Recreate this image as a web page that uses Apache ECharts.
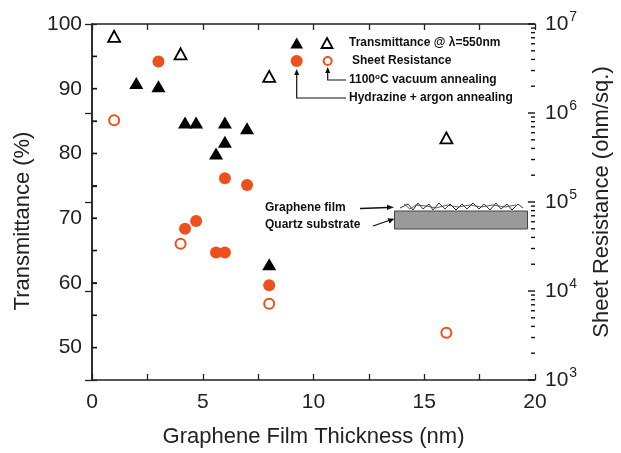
<!DOCTYPE html>
<html><head><meta charset="utf-8">
<script src="https://cdn.jsdelivr.net/npm/echarts@6/dist/echarts.min.js"></script>
<style>html,body{margin:0;padding:0;background:#fff}#c{width:621px;height:453px}</style>
</head><body><div id="c"></div>
<script>
// Transmittance, hydrazine + argon annealing (filled triangles)
const thickTHyd = [2, 3, 4.2, 4.7, 6, 6, 5.6, 7, 8];
const transHyd = [90.9, 90.4, 84.8, 84.8, 84.8, 81.8, 80.0, 83.9, 62.9];
// Transmittance, 1100°C vacuum annealing (open triangles)
const thickTVac = [1, 4, 8, 16];
const transVac = [98.1, 95.4, 91.9, 82.4];
// Sheet resistance, hydrazine + argon annealing (filled circles)
const thickRHyd = [3, 4.2, 4.7, 5.6, 6, 6, 7, 8];
const resHyd = [3.8e6, 5.0e4, 6.1e4, 2.7e4, 2.7e4, 1.85e5, 1.55e5, 1.16e4];
// Sheet resistance, vacuum annealing (open circles)
const thickRVac = [1, 4, 8, 16];
const resVac = [8.3e5, 3.4e4, 7.2e3, 3.4e3];
// tick labels / tick positions
const xTicks = [0, 5, 10, 15, 20];
const tTicks = [50, 60, 70, 80, 90, 100];
const tTickMarks = [50, 55, 60, 65, 70, 75, 80, 85, 90, 95];
const rDecades = [3, 4, 5, 6, 7];
const rMinorMult = [2, 3, 4, 5, 6, 7, 8, 9];

const tMarks = tTickMarks.map(v => [0, v]);
const rMajor = rDecades.map(d => [20, Math.pow(10, d)]);
const rMinor = [];
rDecades.slice(0, -1).forEach(d => rMinorMult.forEach(m => rMinor.push([20, m * Math.pow(10, d)])));

const ORANGE = '#ef4f1c';
const FONT = 'Liberation Sans, Arial, sans-serif';
const zip = (a, b) => a.map((v, i) => [v, b[i]]);
const aLine = () => ({show: true, lineStyle: {color: '#222', width: 1.5}});
const tStyle = () => ({color: '#222', width: 1.3});
const tickSeries = (yIdx, data, len, dir) => ({
  type: 'scatter', xAxisIndex: 0, yAxisIndex: yIdx, data, silent: true, clip: false, z: 5,
  symbol: 'rect', symbolSize: [len, 1.4], symbolOffset: [dir * len / 2, 0],
  itemStyle: {color: '#111', opacity: 1}, emphasis: {disabled: true}
});

const chart = echarts.init(document.getElementById('c'));

const option = {
  animation: false,
  grid: {left: 92, top: 24, width: 445, height: 360, containLabel: false},
  xAxis: [{
    type: 'value', position: 'bottom', min: 0, max: 20, interval: 5,
    axisLine: aLine(), splitLine: {show: false},
    axisTick: {show: true, inside: true, length: 6, lineStyle: tStyle()},
    minorTick: {show: true, splitNumber: 2, length: 6, lineStyle: tStyle()},
    axisLabel: {fontSize: 21, color: '#222', fontFamily: FONT, margin: 12,
      formatter: v => xTicks.includes(v) ? String(v) : ''},
    name: 'Graphene Film Thickness (nm)', nameLocation: 'middle', nameGap: 46,
    nameTextStyle: {fontSize: 22, color: '#222', fontFamily: FONT}
  }, {
    type: 'value', position: 'top', min: 0, max: 20, interval: 5,
    axisLine: aLine(), splitLine: {show: false},
    axisTick: {show: true, inside: true, length: 6, lineStyle: tStyle()},
    minorTick: {show: true, splitNumber: 2, length: 6, lineStyle: tStyle()},
    axisLabel: {show: false}
  }],
  yAxis: [{
    type: 'value', position: 'left', min: 45, max: 100, interval: 5,
    axisLine: aLine(), splitLine: {show: false},
    axisTick: {show: true, inside: true, length: 5, lineStyle: tStyle()},
    axisLabel: {fontSize: 21, color: '#222', fontFamily: FONT, margin: 10,
      formatter: v => tTicks.includes(v) ? String(v) : ''}
  }, {
    type: 'log', logBase: 10, position: 'right', min: 1e3, max: 1e7,
    axisLine: aLine(), splitLine: {show: false},
    axisTick: {show: true, inside: true, length: 7, lineStyle: tStyle()},
    axisLabel: {color: '#222', fontFamily: FONT, margin: 10,
      formatter: v => '{b|10}{s|' + Math.round(Math.log10(v)) + '}',
      rich: {b: {fontSize: 21, fontFamily: FONT, color: '#222'},
             s: {fontSize: 14, fontFamily: FONT, color: '#222', padding: [0, 0, 14, 1]}}},
    name: 'Sheet Resistance (ohm/sq.)', nameLocation: 'middle', nameGap: 56, nameRotate: 90,
    nameTextStyle: {fontSize: 22, color: '#222', fontFamily: FONT}
  }],
  series: [
    tickSeries(0, tMarks, 5, 1),
    tickSeries(1, rMajor, 7, -1),
    tickSeries(1, rMinor, 4, -1),
    {type: 'scatter', xAxisIndex: 0, yAxisIndex: 0, data: zip(thickTHyd, transHyd),
      symbol: 'triangle', symbolSize: [14, 12], itemStyle: {color: '#000', opacity: 1}},
    {type: 'scatter', xAxisIndex: 0, yAxisIndex: 0, data: zip(thickTVac, transVac),
      symbol: 'triangle', symbolSize: [12, 11], itemStyle: {color: '#fff', borderColor: '#000', borderWidth: 1.8, opacity: 1}},
    {type: 'scatter', xAxisIndex: 0, yAxisIndex: 1, data: zip(thickRHyd, resHyd),
      symbol: 'circle', symbolSize: 12, itemStyle: {color: ORANGE, opacity: 1}},
    {type: 'scatter', xAxisIndex: 0, yAxisIndex: 1, data: zip(thickRVac, resVac),
      symbol: 'circle', symbolSize: 10, itemStyle: {color: '#fff', borderColor: ORANGE, borderWidth: 2, opacity: 1}}
  ],
  graphic: [
    // left axis title
    {type: 'text', x: 23, y: 221, rotation: Math.PI / 2,
      style: {text: 'Transmittance (%)', fontSize: 22, fontFamily: FONT, fill: '#222', align: 'center', verticalAlign: 'middle'}},
    // legend
    {type: 'polygon', shape: {points: [[296.7, 37.5], [303, 48.5], [290.4, 48.5]]}, style: {fill: '#000'}},
    {type: 'polygon', shape: {points: [[327, 38], [332.5, 48], [321.5, 48]]}, style: {fill: '#fff', stroke: '#000', lineWidth: 1.8}},
    {type: 'text', x: 349, y: 43, style: {text: 'Transmittance @ λ=550nm', fontSize: 12, fontWeight: 'bold', fontFamily: FONT, fill: '#111', verticalAlign: 'middle'}},
    {type: 'circle', shape: {cx: 296.7, cy: 61, r: 6}, style: {fill: ORANGE}},
    {type: 'circle', shape: {cx: 327.7, cy: 61, r: 4}, style: {fill: '#fff', stroke: ORANGE, lineWidth: 2}},
    {type: 'text', x: 352, y: 61, style: {text: 'Sheet Resistance', fontSize: 12, fontWeight: 'bold', fontFamily: FONT, fill: '#111', verticalAlign: 'middle'}},
    {type: 'polyline', shape: {points: [[327.7, 70], [327.7, 80], [346, 80]]}, style: {stroke: '#111', lineWidth: 1.2, fill: null}},
    {type: 'polygon', shape: {points: [[327.7, 67], [330.2, 73], [325.2, 73]]}, style: {fill: '#111'}},
    {type: 'text', x: 349, y: 80, style: {text: '{a|1100}{s|o}{a|C vacuum annealing}', fontFamily: FONT, fill: '#111', verticalAlign: 'middle',
      rich: {a: {fontSize: 12, fontWeight: 'bold', fontFamily: FONT, fill: '#111'}, s: {fontSize: 8, fontWeight: 'bold', fontFamily: FONT, fill: '#111', padding: [0, 0, 7, 0]}}}},
    {type: 'polyline', shape: {points: [[296.7, 72], [296.7, 98], [346, 98]]}, style: {stroke: '#111', lineWidth: 1.2, fill: null}},
    {type: 'polygon', shape: {points: [[296.7, 69], [299.2, 75], [294.2, 75]]}, style: {fill: '#111'}},
    {type: 'text', x: 349, y: 98, style: {text: 'Hydrazine + argon annealing', fontSize: 12, fontWeight: 'bold', fontFamily: FONT, fill: '#111', verticalAlign: 'middle'}},
    // inset
    {type: 'text', x: 265, y: 208, style: {text: 'Graphene film', fontSize: 12, fontWeight: 'bold', fontFamily: FONT, fill: '#111', verticalAlign: 'middle'}},
    {type: 'text', x: 265, y: 225, style: {text: 'Quartz substrate', fontSize: 12, fontWeight: 'bold', fontFamily: FONT, fill: '#111', verticalAlign: 'middle'}},
    {type: 'line', shape: {x1: 360, y1: 208.5, x2: 388, y2: 207.5}, style: {stroke: '#111', lineWidth: 1.3}},
    {type: 'polygon', shape: {points: [[394, 207.3], [387, 204.8], [387, 210]]}, style: {fill: '#111'}},
    {type: 'line', shape: {x1: 373, y1: 226, x2: 389, y2: 220.5}, style: {stroke: '#111', lineWidth: 1.3}},
    {type: 'polygon', shape: {points: [[394.5, 218.8], [387.5, 218.3], [389.5, 223.5]]}, style: {fill: '#111'}},
    {type: 'rect', shape: {x: 394.5, y: 211, width: 133, height: 18}, style: {fill: '#9a9a9a', stroke: '#444', lineWidth: 1}},
    {type: 'polyline', shape: {points: [[400, 208], [408, 204], [413, 210], [418, 203], [423, 209], [429, 204], [433, 210], [439, 203], [445, 209], [450, 204], [456, 210], [462, 204], [467, 209], [473, 203], [479, 209], [484, 204], [490, 210], [496, 203], [501, 209], [507, 204], [512, 210], [518, 204], [523, 208]]},
      style: {stroke: '#333', lineWidth: 1, fill: null}},
    {type: 'polyline', shape: {points: [[404, 204], [410, 209], [416, 205], [426, 206], [436, 208], [447, 205], [458, 207], [470, 205], [481, 207], [493, 205], [505, 207], [516, 205]]},
      style: {stroke: '#333', lineWidth: 0.8, fill: null}}
  ]
};
chart.setOption(option);
</script>
</body></html>
